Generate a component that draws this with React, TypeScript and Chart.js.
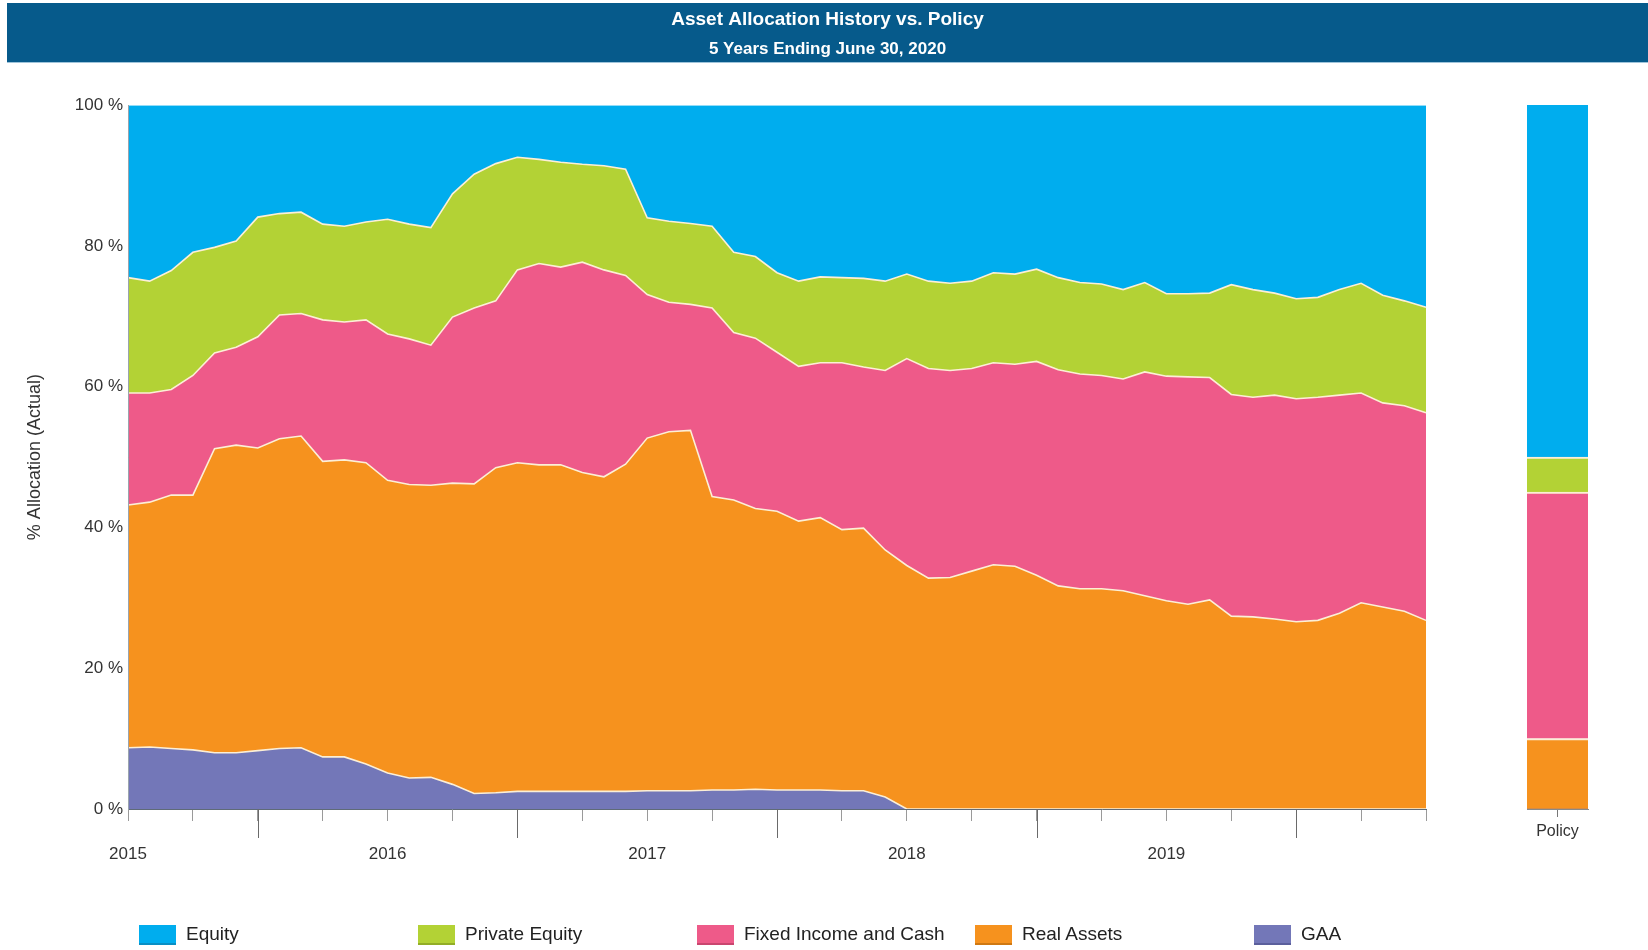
import React, { useEffect, useRef } from "react";
import { Chart, registerables } from "chart.js";

Chart.register(...registerables);

const FONT = "'Liberation Sans', Arial, sans-serif";

const TITLE = "Asset Allocation History vs. Policy";
const SUBTITLE = "5 Years Ending June 30, 2020";
const Y_TITLE = "% Allocation (Actual)";

const MONTHS = [
  "Jun 2015", "Jul 2015", "Aug 2015", "Sep 2015", "Oct 2015", "Nov 2015", "Dec 2015",
  "Jan 2016", "Feb 2016", "Mar 2016", "Apr 2016", "May 2016", "Jun 2016", "Jul 2016", "Aug 2016", "Sep 2016", "Oct 2016", "Nov 2016", "Dec 2016",
  "Jan 2017", "Feb 2017", "Mar 2017", "Apr 2017", "May 2017", "Jun 2017", "Jul 2017", "Aug 2017", "Sep 2017", "Oct 2017", "Nov 2017", "Dec 2017",
  "Jan 2018", "Feb 2018", "Mar 2018", "Apr 2018", "May 2018", "Jun 2018", "Jul 2018", "Aug 2018", "Sep 2018", "Oct 2018", "Nov 2018", "Dec 2018",
  "Jan 2019", "Feb 2019", "Mar 2019", "Apr 2019", "May 2019", "Jun 2019", "Jul 2019", "Aug 2019", "Sep 2019", "Oct 2019", "Nov 2019", "Dec 2019",
  "Jan 2020", "Feb 2020", "Mar 2020", "Apr 2020", "May 2020", "Jun 2020",
];

// year labels placed every 12 months starting at the first month
const YEAR_LABELS = ["2015", "2016", "2017", "2018", "2019"];
// months carrying the long (year-boundary) tick marks
const LONG_TICK_MONTHS = ["Dec 2015", "Dec 2016", "Dec 2017", "Dec 2018", "Dec 2019"];

const GAA = [
  8.7, 8.8, 8.6, 8.4, 8.0, 8.0, 8.3, 8.6, 8.7, 7.4,
  7.4, 6.4, 5.1, 4.4, 4.5, 3.5, 2.2, 2.3, 2.5, 2.5,
  2.5, 2.5, 2.5, 2.5, 2.6, 2.6, 2.6, 2.7, 2.7, 2.8,
  2.7, 2.7, 2.7, 2.6, 2.6, 1.7, 0, 0, 0, 0,
  0, 0, 0, 0, 0, 0, 0, 0, 0, 0,
  0, 0, 0, 0, 0, 0, 0, 0, 0, 0, 0,
];

const REAL_ASSETS = [
  34.5, 34.8, 36.0, 36.2, 43.2, 43.7, 43.0, 44.0, 44.3, 42.0,
  42.2, 42.8, 41.6, 41.7, 41.5, 42.8, 44.0, 46.2, 46.7, 46.4,
  46.4, 45.3, 44.7, 46.5, 50.1, 51.0, 51.2, 41.7, 41.2, 39.9,
  39.6, 38.2, 38.7, 37.1, 37.3, 35.1, 34.6, 32.8, 32.9, 33.8,
  34.7, 34.5, 33.2, 31.7, 31.3, 31.3, 31.0, 30.3, 29.6, 29.1,
  29.7, 27.4, 27.3, 27.0, 26.6, 26.8, 27.8, 29.3, 28.7, 28.1, 26.8,
];

const FIXED_INCOME = [
  15.9, 15.5, 15.0, 17.0, 13.6, 13.9, 15.8, 17.6, 17.4, 20.1,
  19.6, 20.3, 20.8, 20.7, 19.9, 23.6, 25.0, 23.7, 27.4, 28.6,
  28.1, 29.9, 29.4, 26.8, 20.4, 18.4, 17.9, 26.8, 23.8, 24.2,
  22.6, 22.0, 22.0, 23.7, 22.9, 25.5, 29.4, 29.8, 29.4, 28.8,
  28.7, 28.7, 30.4, 30.7, 30.5, 30.3, 30.1, 31.8, 31.9, 32.3,
  31.6, 31.5, 31.2, 31.8, 31.7, 31.7, 31.0, 29.8, 29.0, 29.2, 29.5,
];

const PRIVATE_EQUITY = [
  16.4, 15.9, 16.9, 17.5, 15.0, 15.1, 17.0, 14.4, 14.4, 13.6,
  13.6, 13.9, 16.3, 16.3, 16.7, 17.5, 19.0, 19.5, 16.0, 14.8,
  14.9, 13.9, 14.8, 15.1, 10.9, 11.5, 11.5, 11.6, 11.4, 11.6,
  11.3, 12.1, 12.2, 12.1, 12.6, 12.7, 12.0, 12.4, 12.4, 12.4,
  12.8, 12.8, 13.1, 13.1, 13.0, 13.0, 12.7, 12.7, 11.7, 11.8,
  12.0, 15.6, 15.3, 14.5, 14.2, 14.2, 15.0, 15.6, 15.3, 14.9, 15.0,
];

const EQUITY = [
  24.5, 25.0, 23.5, 20.9, 20.2, 19.3, 15.9, 15.4, 15.2, 16.9,
  17.2, 16.6, 16.2, 16.9, 17.4, 12.6, 9.8, 8.3, 7.4, 7.7,
  8.1, 8.4, 8.6, 9.1, 16.0, 16.5, 16.8, 17.2, 20.9, 21.5,
  23.8, 25.0, 24.4, 24.5, 24.6, 25.0, 24.0, 25.0, 25.3, 25.0,
  23.8, 24.0, 23.3, 24.5, 25.2, 25.4, 26.2, 25.2, 26.8, 26.8,
  26.7, 25.5, 26.2, 26.7, 27.5, 27.3, 26.2, 25.3, 27.0, 27.8, 28.7,
];

const POLICY_LABELS = ["Policy"];
const POLICY_EQUITY = [50];
const POLICY_PRIVATE_EQUITY = [5];
const POLICY_FIXED_INCOME = [35];
const POLICY_REAL_ASSETS = [10];
const POLICY_GAA = [0];

const SERIES_NAMES = ["Equity", "Private Equity", "Fixed Income and Cash", "Real Assets", "GAA"];
const SERIES_COLORS = ["#00adee", "#b3d235", "#ee5a89", "#f6921e", "#7377b8"];
const SERIES_SHADES = ["#0a8fc4", "#92ad27", "#c9466f", "#cf7812", "#5b5f9c"];

const LINE = "#fcefd6";
const TEXT = "#333333";

export default function App() {
  const mainRef = useRef<HTMLCanvasElement | null>(null);
  const policyRef = useRef<HTMLCanvasElement | null>(null);

  useEffect(() => {
    if (!mainRef.current || !policyRef.current) return;

    const titleBar = {
      id: "titleBar",
      beforeDraw(chart: any) {
        const { ctx } = chart;
        ctx.save();
        ctx.fillStyle = "#065a8b";
        ctx.fillRect(7, 3, chart.width - 7, 60);
        ctx.fillStyle = "#9fc4da";
        ctx.fillRect(7, 62, chart.width - 7, 1);
        ctx.restore();
      },
    };

    const longTicks = {
      id: "longTicks",
      afterDraw(chart: any) {
        const x = chart.scales.x;
        const { ctx, chartArea } = chart;
        ctx.save();
        ctx.strokeStyle = "#6a6a6a";
        ctx.lineWidth = 1;
        for (const m of LONG_TICK_MONTHS) {
          const idx = MONTHS.indexOf(m);
          const px = Math.round(x.getPixelForValue(idx)) + 0.5;
          ctx.beginPath();
          ctx.moveTo(px, chartArea.bottom);
          ctx.lineTo(px, chartArea.bottom + 29);
          ctx.stroke();
        }
        ctx.restore();
      },
    };

    const area = (label: string, data: number[], color: string, fill: any, extra: any = {}) => ({
      label,
      data,
      backgroundColor: color,
      borderColor: LINE,
      borderWidth: 1.6,
      fill,
      pointRadius: 0,
      tension: 0,
      ...extra,
    });

    const main = new Chart(mainRef.current, {
      type: "line",
      data: {
        labels: MONTHS,
        datasets: [
          area("GAA", GAA, SERIES_COLORS[4], "origin"),
          area("Real Assets", REAL_ASSETS, SERIES_COLORS[3], "-1"),
          area("Fixed Income and Cash", FIXED_INCOME, SERIES_COLORS[2], "-1"),
          area("Private Equity", PRIVATE_EQUITY, SERIES_COLORS[1], "-1"),
          area("Equity", EQUITY, SERIES_COLORS[0], "-1", { borderWidth: 0 }),
        ],
      },
      options: {
        responsive: false,
        animation: false,
        layout: { padding: { left: 7, right: 0, top: 0, bottom: 81 } },
        plugins: {
          legend: { display: false },
          tooltip: { enabled: false },
          title: {
            display: true,
            text: TITLE,
            color: "#ffffff",
            font: { family: FONT, size: 19, weight: "bold" },
            padding: { top: 8, bottom: 8 },
          },
          subtitle: {
            display: true,
            text: SUBTITLE,
            color: "#ffffff",
            font: { family: FONT, size: 17, weight: "bold" },
            padding: { top: 0, bottom: 46 },
          },
        },
        scales: {
          x: {
            type: "category",
            offset: false,
            grid: {
              drawOnChartArea: false,
              tickLength: 12,
              tickColor: (ctx: any) => (ctx.index % 3 === 0 ? "#9a9a9a" : "rgba(0,0,0,0)"),
            },
            border: { color: "#5f6b78", width: 1, z: 1 },
            ticks: {
              autoSkip: false,
              maxRotation: 0,
              padding: 23,
              color: TEXT,
              font: { family: FONT, size: 17 },
              callback: (_v: any, i: number) => (i % 12 === 0 ? YEAR_LABELS[i / 12] ?? "" : ""),
            },
            afterFit: (s: any) => {
              s.height = 60;
            },
          },
          y: {
            stacked: true,
            min: 0,
            max: 100,
            ticks: {
              stepSize: 20,
              padding: 5,
              color: TEXT,
              font: { family: FONT, size: 17 },
              callback: (v: any) => `${v} %`,
            },
            grid: { drawOnChartArea: false, drawTicks: false },
            border: { color: "#9aa4ae", width: 1, z: 1 },
            title: {
              display: true,
              text: Y_TITLE,
              color: TEXT,
              font: { family: FONT, size: 18 },
              padding: { top: 17, bottom: 0 },
            },
            afterFit: (s: any) => {
              s.width = 121;
            },
          },
          yRight: {
            position: "right",
            display: true,
            grid: { display: false },
            border: { display: false },
            ticks: { display: false },
            afterFit: (s: any) => {
              s.width = 222;
            },
          },
        },
      } as any,
      plugins: [titleBar, longTicks],
    });

    const seg = (label: string, data: number[], color: string, top: number) => ({
      label,
      data,
      backgroundColor: color,
      borderColor: LINE,
      borderWidth: { top, left: 0, right: 0, bottom: 0 },
      borderSkipped: false,
    });

    const policy = new Chart(policyRef.current, {
      type: "bar",
      data: {
        labels: POLICY_LABELS,
        datasets: [
          seg("GAA", POLICY_GAA, SERIES_COLORS[4], 0),
          seg("Real Assets", POLICY_REAL_ASSETS, SERIES_COLORS[3], 2),
          seg("Fixed Income and Cash", POLICY_FIXED_INCOME, SERIES_COLORS[2], 2),
          seg("Private Equity", POLICY_PRIVATE_EQUITY, SERIES_COLORS[1], 2),
          seg("Equity", POLICY_EQUITY, SERIES_COLORS[0], 0),
        ],
      },
      options: {
        responsive: false,
        animation: false,
        layout: { padding: { left: 47, right: 52, top: 105, bottom: 101 } },
        datasets: { bar: { barPercentage: 1, categoryPercentage: 1 } },
        plugins: { legend: { display: false }, tooltip: { enabled: false } },
        scales: {
          x: {
            stacked: true,
            grid: { offset: false, drawOnChartArea: false, tickLength: 8, tickColor: "#777777" },
            border: { color: "#8a8a8a", z: 1 },
            ticks: { padding: 5, color: TEXT, font: { family: FONT, size: 16 } },
            afterFit: (s: any) => {
              s.height = 40;
            },
          },
          y: { stacked: true, display: false, min: 0, max: 100 },
        },
      } as any,
    });

    return () => {
      main.destroy();
      policy.destroy();
    };
  }, []);

  const legendLeft = [139, 418, 697, 975, 1254];

  return (
    <div
      style={{
        position: "absolute",
        left: 0,
        top: 0,
        width: 1648,
        height: 950,
        background: "#ffffff",
        overflow: "hidden",
      }}
    >
      <canvas
        ref={mainRef}
        width={1648}
        height={950}
        style={{ position: "absolute", left: 0, top: 0, width: 1648, height: 950 }}
      />
      <canvas
        ref={policyRef}
        width={160}
        height={950}
        style={{ position: "absolute", left: 1480, top: 0, width: 160, height: 950 }}
      />
      {SERIES_NAMES.map((name, i) => (
        <div key={name}>
          <div
            style={{
              position: "absolute",
              left: legendLeft[i],
              top: 925,
              width: 37,
              height: 18,
              background: SERIES_COLORS[i],
              borderBottom: `2px solid ${SERIES_SHADES[i]}`,
            }}
          />
          <div
            style={{
              position: "absolute",
              left: legendLeft[i] + 47,
              top: 921,
              height: 26,
              lineHeight: "26px",
              fontFamily: FONT,
              fontSize: 19,
              color: "#222222",
              whiteSpace: "nowrap",
            }}
          >
            {name}
          </div>
        </div>
      ))}
    </div>
  );
}
